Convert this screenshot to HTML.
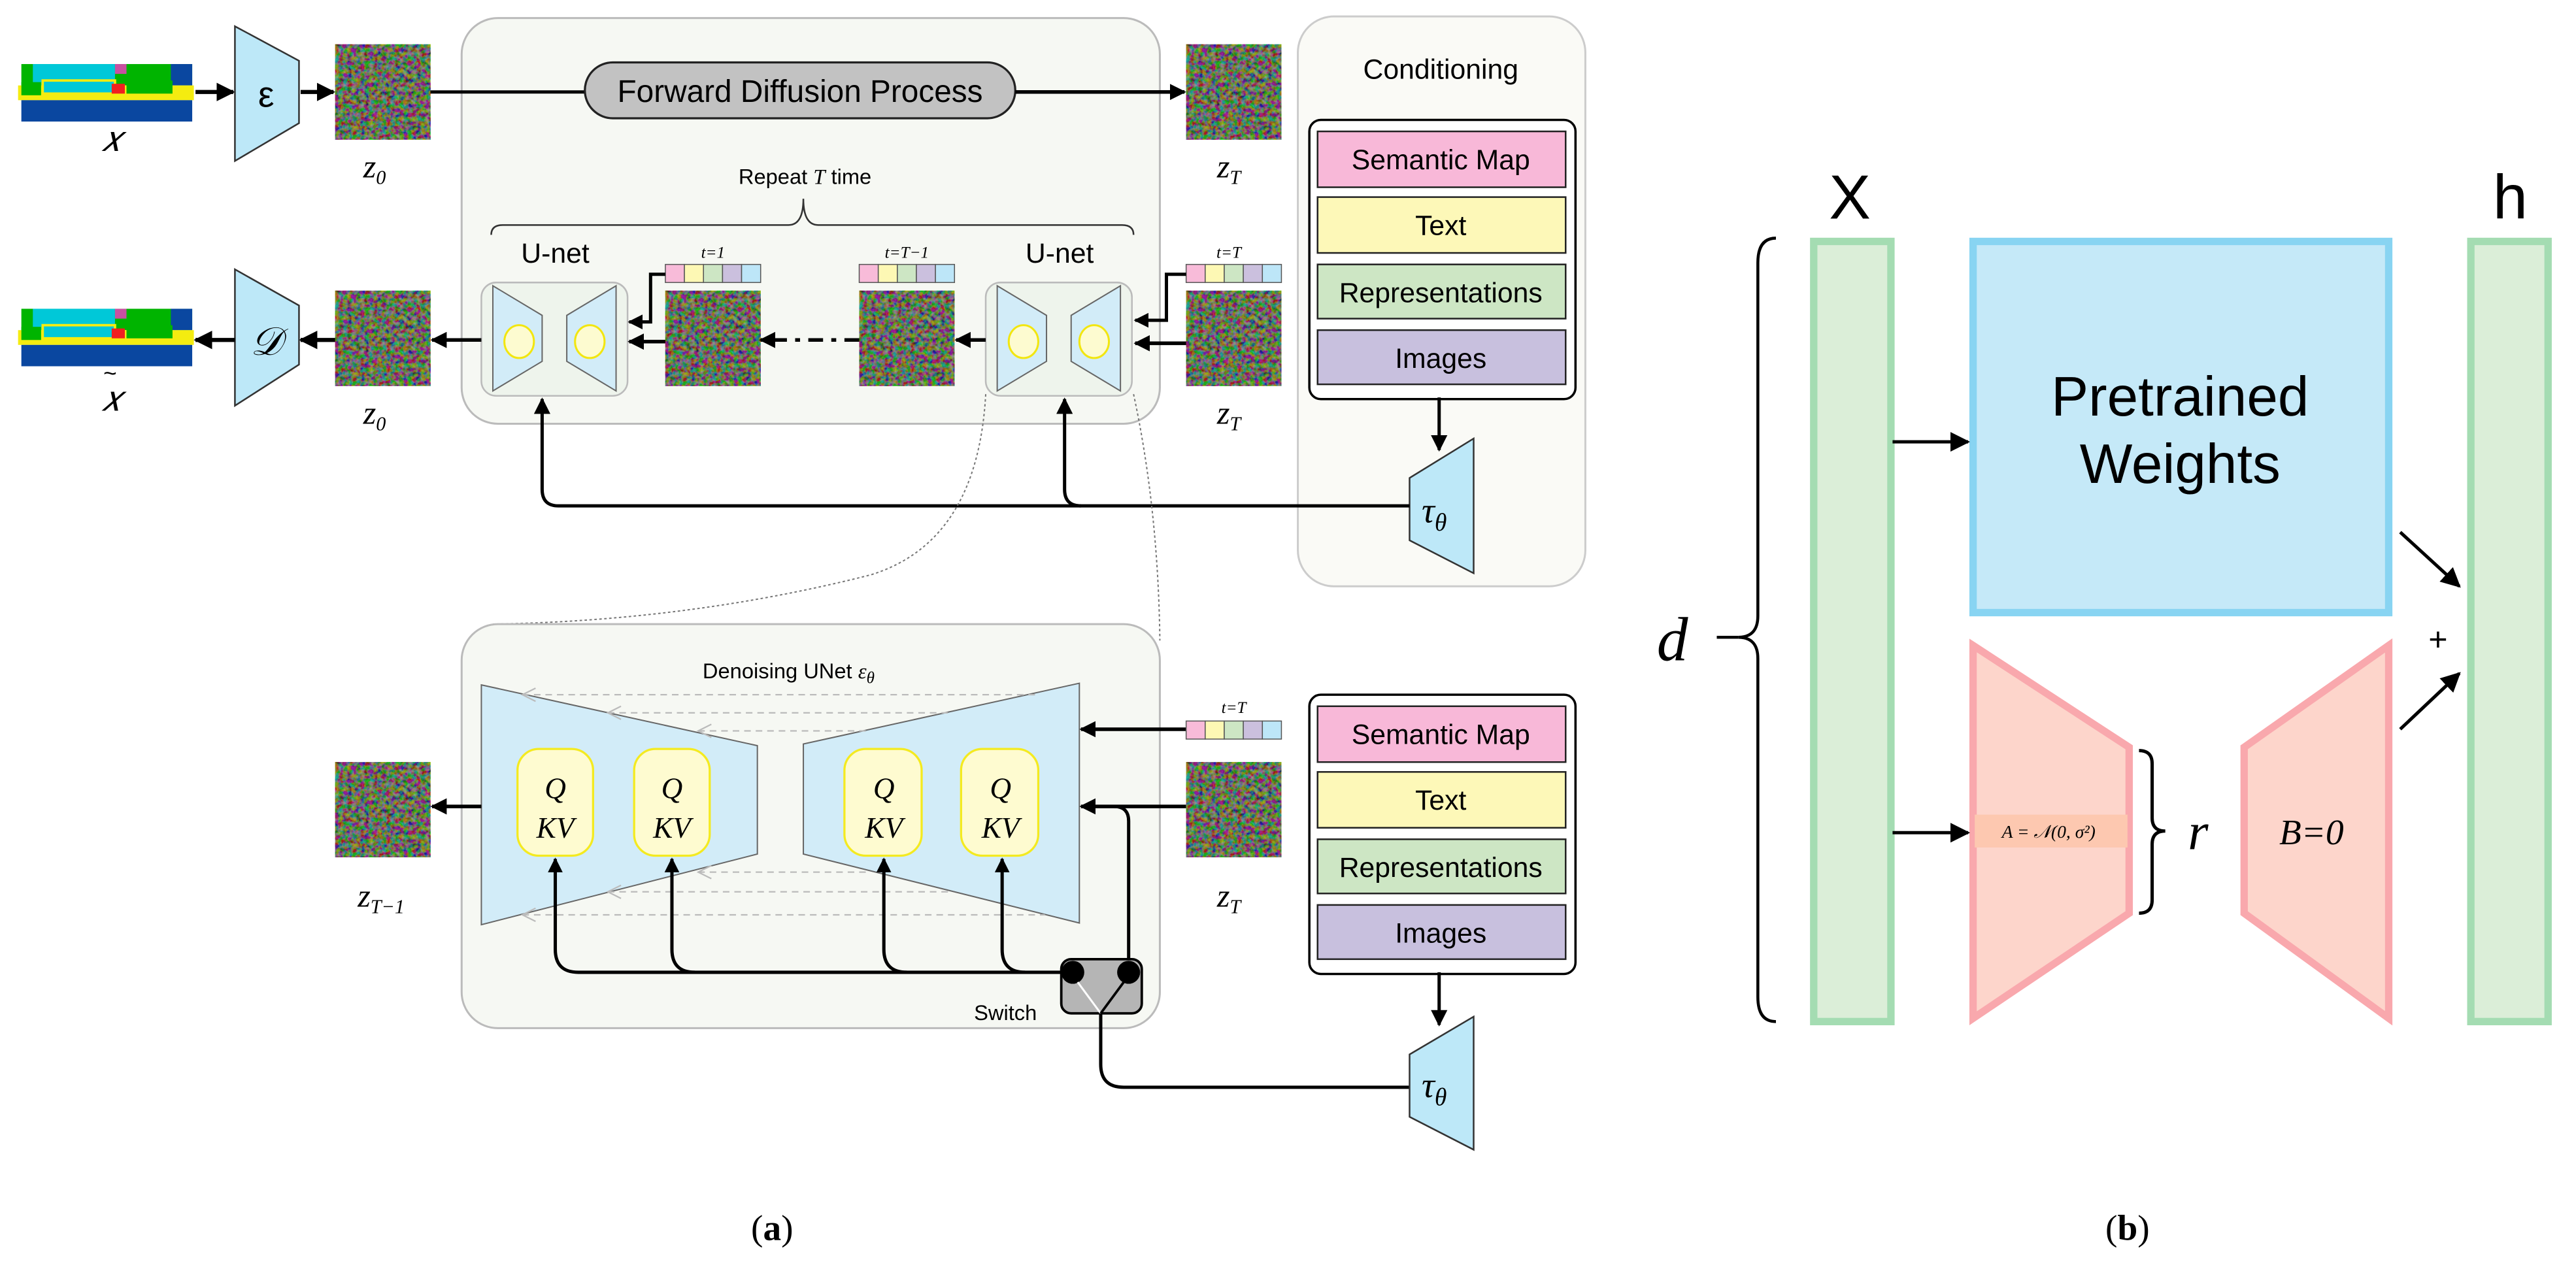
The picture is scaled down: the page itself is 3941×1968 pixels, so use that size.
<!DOCTYPE html>
<html><head><meta charset="utf-8"><style>html,body{margin:0;padding:0;background:#fff}svg{display:block}</style></head><body>
<svg width="3941" height="1968" viewBox="0 0 1568 783" xmlns="http://www.w3.org/2000/svg" font-family="'Liberation Sans', sans-serif">
<defs>
<filter id="nz" x="0" y="0" width="1" height="1">
<feTurbulence type="fractalNoise" baseFrequency="0.38" numOctaves="2" seed="3"/>
<feColorMatrix type="matrix" values="2.0 -0.5 -0.3 0 -0.35  -0.4 2.0 -0.4 0 -0.3  -0.3 -0.5 2.0 0 -0.42  0 0 0 0 1"/>
</filter>
<marker id="ah" viewBox="0 0 10 10" refX="9" refY="5" markerWidth="4.5" markerHeight="4.5" orient="auto"><path d="M0,0 L10,5 L0,10 z" fill="#000"/></marker>
<marker id="ah2" viewBox="0 0 10 10" refX="9" refY="5" markerWidth="5" markerHeight="5" orient="auto"><path d="M0,0 L10,5 L0,10 z" fill="#000"/></marker>
<marker id="ah3" viewBox="0 0 10 10" refX="9" refY="5" markerWidth="6" markerHeight="6" orient="auto"><path d="M0,0 L10,5 L0,10 z" fill="#000"/></marker>
<g id="noise"><rect width="58" height="58" fill="#4e4a46"/><rect width="58" height="58" filter="url(#nz)" opacity="0.6"/></g>
<g id="bar"><rect x="0" y="0" width="11.6" height="11" fill="#f8bbd9" stroke="#555" stroke-width="0.6"/><rect x="11.6" y="0" width="11.6" height="11" fill="#fdf8b4" stroke="#555" stroke-width="0.6"/><rect x="23.2" y="0" width="11.6" height="11" fill="#cde6c4" stroke="#555" stroke-width="0.6"/><rect x="34.8" y="0" width="11.6" height="11" fill="#cbc0de" stroke="#555" stroke-width="0.6"/><rect x="46.4" y="0" width="11.6" height="11" fill="#bde6f8" stroke="#555" stroke-width="0.6"/></g>
<g id="img">
<rect x="13" y="39" width="104" height="13" fill="#00b400"/>
<rect x="20" y="39" width="50" height="13" fill="#00c8d8"/>
<rect x="70" y="39" width="7" height="6" fill="#c850a0"/>
<rect x="104" y="39" width="13" height="13" fill="#0a47a0"/>
<rect x="11" y="52" width="107" height="9" fill="#f4ec10"/>
<rect x="13" y="50" width="12" height="8" fill="#00b400"/>
<rect x="26" y="49" width="44" height="8" fill="#00c8d8" stroke="#f4ec10" stroke-width="1.5"/>
<rect x="68" y="51" width="8" height="6" fill="#f02020"/>
<rect x="77" y="49" width="28" height="8" fill="#00b400"/>
<rect x="13" y="61" width="104" height="13" fill="#0a47a0"/>
</g>
<g id="cond">
<rect x="797" y="0" width="162" height="170" rx="7" fill="#fff" stroke="#000" stroke-width="1.4"/>
<rect x="802" y="7" width="151" height="34" fill="#f8b8d8" stroke="#222" stroke-width="1"/>
<rect x="802" y="47" width="151" height="34" fill="#fdf8b8" stroke="#222" stroke-width="1"/>
<rect x="802" y="88" width="151" height="33" fill="#cde6c4" stroke="#222" stroke-width="1"/>
<rect x="802" y="128" width="151" height="33" fill="#c8c0de" stroke="#222" stroke-width="1"/>
<text x="877" y="30" font-size="17" text-anchor="middle">Semantic Map</text>
<text x="877" y="70" font-size="17" text-anchor="middle">Text</text>
<text x="877" y="111" font-size="17" text-anchor="middle">Representations</text>
<text x="877" y="151" font-size="17" text-anchor="middle">Images</text>
</g>
</defs>

<rect x="281" y="11" width="425" height="247" rx="22" fill="#f6f8f3" stroke="#bbb" stroke-width="1.2"/>
<rect x="790" y="10" width="175" height="347" rx="22" fill="#fafaf6" stroke="#ccc" stroke-width="1.2"/>
<text x="877" y="48" font-size="17" text-anchor="middle">Conditioning</text>
<use href="#cond" y="73"/>
<line x1="876" y1="242" x2="876" y2="274" stroke="#000" stroke-width="2" marker-end="url(#ah2)"/>
<polygon points="858,291 897,267 897,349 858,329" fill="#bde8f8" stroke="#333" stroke-width="1"/>
<text x="873" y="318" font-size="22" font-family="'Liberation Serif',serif" font-style="italic" text-anchor="middle">τ<tspan font-size="15" dy="5">θ</tspan></text>
<path d="M858,308 H340 Q330,308 330,298 V243" fill="none" stroke="#000" stroke-width="2" marker-end="url(#ah2)"/>
<path d="M658,308 Q648,308 648,298 V243" fill="none" stroke="#000" stroke-width="2" marker-end="url(#ah2)"/>

<use href="#img"/>
<text x="68" y="92" font-size="22" font-family="'Liberation Serif',serif" font-style="italic" text-anchor="middle">𝑥</text>
<line x1="119" y1="56" x2="142" y2="56" stroke="#000" stroke-width="2.5" marker-end="url(#ah)"/>
<polygon points="143,16 182,37 182,75 143,98" fill="#bde8f8" stroke="#333" stroke-width="1"/>
<text x="162" y="65" font-size="22" text-anchor="middle">ε</text>
<line x1="183" y1="56" x2="203" y2="56" stroke="#000" stroke-width="2.5" marker-end="url(#ah)"/>
<use href="#noise" x="204" y="27"/>
<text x="228" y="108" font-size="20" font-family="'Liberation Serif',serif" font-style="italic" text-anchor="middle">z<tspan font-size="12" dy="4">0</tspan></text>
<line x1="262" y1="56" x2="356" y2="56" stroke="#000" stroke-width="2"/>
<rect x="356" y="38" width="262" height="34" rx="17" fill="#c2c2c2" stroke="#222" stroke-width="1.3"/>
<text x="487" y="62" font-size="19" text-anchor="middle">Forward Diffusion Process</text>
<line x1="618" y1="56" x2="721" y2="56" stroke="#000" stroke-width="2.2" marker-end="url(#ah)"/>
<use href="#noise" x="722" y="27"/>
<text x="748" y="108" font-size="20" font-family="'Liberation Serif',serif" font-style="italic" text-anchor="middle">z<tspan font-size="12" dy="4">T</tspan></text>

<text x="490" y="112" font-size="13" text-anchor="middle">Repeat <tspan font-family="'Liberation Serif',serif" font-style="italic">T</tspan> time</text>
<path d="M299,143 Q299,137 306,137 L480,137 Q489,137 489,121 Q489,137 498,137 L683,137 Q690,137 690,143" fill="none" stroke="#333" stroke-width="1"/>
<text x="338" y="160" font-size="17" text-anchor="middle">U-net</text>
<text x="645" y="160" font-size="17" text-anchor="middle">U-net</text>
<text x="434" y="157" font-size="10" font-family="'Liberation Serif',serif" font-style="italic" text-anchor="middle">t=1</text>
<text x="552" y="157" font-size="10" font-family="'Liberation Serif',serif" font-style="italic" text-anchor="middle">t=T−1</text>
<text x="748" y="157" font-size="10" font-family="'Liberation Serif',serif" font-style="italic" text-anchor="middle">t=T</text>
<use href="#bar" x="405" y="161"/>
<use href="#bar" x="523" y="161"/>
<use href="#bar" x="722" y="161"/>
<use href="#noise" x="405" y="177"/>
<use href="#noise" x="523" y="177"/>
<use href="#noise" x="722" y="177"/>

<g>
<rect x="293" y="172" width="89" height="69" rx="9" fill="#eef4ec" stroke="#bbb" stroke-width="1"/>
<polygon points="300,174 330,192 330,220 300,238" fill="#d2ecf8" stroke="#666" stroke-width="0.8"/>
<polygon points="375,174 345,192 345,220 375,238" fill="#d2ecf8" stroke="#666" stroke-width="0.8"/>
<ellipse cx="316" cy="208" rx="9" ry="10" fill="#fdfbd0" stroke="#f2e610" stroke-width="1.2"/>
<ellipse cx="359" cy="208" rx="9" ry="10" fill="#fdfbd0" stroke="#f2e610" stroke-width="1.2"/>
</g>
<g transform="translate(307,0)">
<rect x="293" y="172" width="89" height="69" rx="9" fill="#eef4ec" stroke="#bbb" stroke-width="1"/>
<polygon points="300,174 330,192 330,220 300,238" fill="#d2ecf8" stroke="#666" stroke-width="0.8"/>
<polygon points="375,174 345,192 345,220 375,238" fill="#d2ecf8" stroke="#666" stroke-width="0.8"/>
<ellipse cx="316" cy="208" rx="9" ry="10" fill="#fdfbd0" stroke="#f2e610" stroke-width="1.2"/>
<ellipse cx="359" cy="208" rx="9" ry="10" fill="#fdfbd0" stroke="#f2e610" stroke-width="1.2"/>
</g>
<line x1="405" y1="208" x2="383" y2="208" stroke="#000" stroke-width="2.2" marker-end="url(#ah)"/>
<path d="M405,167 H396 V196 H383" fill="none" stroke="#000" stroke-width="2" marker-end="url(#ah)"/>
<line x1="523" y1="207" x2="463" y2="207" stroke="#000" stroke-width="2.2" stroke-dasharray="9,5,3,5" marker-end="url(#ah)"/>
<line x1="600" y1="207" x2="582" y2="207" stroke="#000" stroke-width="2.2" marker-end="url(#ah)"/>
<line x1="722" y1="209" x2="691" y2="209" stroke="#000" stroke-width="2.2" marker-end="url(#ah)"/>
<path d="M722,167 H710 V195 H691" fill="none" stroke="#000" stroke-width="2" marker-end="url(#ah)"/>
<line x1="293" y1="207" x2="263" y2="207" stroke="#000" stroke-width="2.2" marker-end="url(#ah)"/>
<use href="#noise" x="204" y="177"/>
<text x="228" y="258" font-size="20" font-family="'Liberation Serif',serif" font-style="italic" text-anchor="middle">z<tspan font-size="12" dy="4">0</tspan></text>
<text x="748" y="258" font-size="20" font-family="'Liberation Serif',serif" font-style="italic" text-anchor="middle">z<tspan font-size="12" dy="4">T</tspan></text>
<line x1="204" y1="207" x2="183" y2="207" stroke="#000" stroke-width="2.5" marker-end="url(#ah)"/>
<polygon points="143,164 182,186 182,222 143,247" fill="#bde8f8" stroke="#333" stroke-width="1"/>
<text x="162" y="216" font-size="24" font-family="'Liberation Serif',serif" font-style="italic" text-anchor="middle">𝒟</text>
<line x1="143" y1="207" x2="119" y2="207" stroke="#000" stroke-width="2.5" marker-end="url(#ah)"/>
<use href="#img" y="149"/>
<text x="67" y="232" font-size="14" text-anchor="middle">~</text>
<text x="68" y="250" font-size="22" font-family="'Liberation Serif',serif" font-style="italic" text-anchor="middle">𝑥</text>

<path d="M600,240 Q595,330 530,350 Q420,378 300,380" fill="none" stroke="#777" stroke-width="0.8" stroke-dasharray="1.5,1.5"/>
<path d="M690,240 Q705,310 706,390" fill="none" stroke="#777" stroke-width="0.8" stroke-dasharray="1.5,1.5"/>

<rect x="281" y="380" width="425" height="246" rx="22" fill="#f6f8f3" stroke="#bbb" stroke-width="1.2"/>
<text x="480" y="413" font-size="13" text-anchor="middle">Denoising UNet <tspan font-family="'Liberation Serif',serif" font-style="italic">ε<tspan font-size="10" dy="3">θ</tspan></tspan></text>
<polygon points="293,417 461,454 461,520 293,563" fill="#d2ecf8" stroke="#666" stroke-width="0.8"/>
<polygon points="657,416 489,453 489,520 657,562" fill="#d2ecf8" stroke="#666" stroke-width="0.8"/>
<g stroke="#bbb" stroke-width="0.9" stroke-dasharray="4,3" fill="none">
<line x1="318" y1="423" x2="630" y2="423"/><line x1="370" y1="434" x2="580" y2="434"/><line x1="425" y1="445" x2="530" y2="445"/>
<line x1="425" y1="531" x2="530" y2="531"/><line x1="370" y1="543" x2="580" y2="543"/><line x1="318" y1="557" x2="636" y2="557"/>
</g>
<g stroke="#bbb" stroke-width="0.9" fill="none">
<path d="M326,419 L318,423 L326,427"/><path d="M378,430 L370,434 L378,438"/><path d="M433,441 L425,445 L433,449"/>
<path d="M433,527 L425,531 L433,535"/><path d="M378,539 L370,543 L378,547"/><path d="M326,553 L318,557 L326,561"/>
</g>
<g font-family="'Liberation Serif',serif" font-style="italic" font-size="18" text-anchor="middle">
<rect x="315" y="456" width="46" height="65" rx="13" fill="#fefbd0" stroke="#f4ea20" stroke-width="1.3"/>
<rect x="386" y="456" width="46" height="65" rx="13" fill="#fefbd0" stroke="#f4ea20" stroke-width="1.3"/>
<rect x="514" y="456" width="47" height="65" rx="13" fill="#fefbd0" stroke="#f4ea20" stroke-width="1.3"/>
<rect x="585" y="456" width="47" height="65" rx="13" fill="#fefbd0" stroke="#f4ea20" stroke-width="1.3"/>
<text x="338" y="486">Q</text><text x="338" y="510">KV</text>
<text x="409" y="486">Q</text><text x="409" y="510">KV</text>
<text x="538" y="486">Q</text><text x="538" y="510">KV</text>
<text x="609" y="486">Q</text><text x="609" y="510">KV</text>
</g>
<g fill="none" stroke="#000" stroke-width="2">
<path d="M650,592 H352 Q338,592 338,578 V523" marker-end="url(#ah)"/>
<path d="M423,592 Q409,592 409,578 V523" marker-end="url(#ah)"/>
<path d="M552,592 Q538,592 538,578 V523" marker-end="url(#ah)"/>
<path d="M624,592 Q610,592 610,578 V523" marker-end="url(#ah)"/>
<path d="M687,590 V500 Q687,491 678,491"/>
</g>
<line x1="722" y1="491" x2="658" y2="491" stroke="#000" stroke-width="2.2" marker-end="url(#ah)"/>
<line x1="722" y1="444" x2="658" y2="444" stroke="#000" stroke-width="2.2" marker-end="url(#ah)"/>
<rect x="646" y="584" width="49" height="33" rx="6" fill="#b5b5b5" stroke="#000" stroke-width="1.5"/>
<circle cx="653" cy="592" r="7" fill="#000"/><circle cx="687" cy="592" r="7" fill="#000"/>
<line x1="656" y1="598" x2="670" y2="617" stroke="#fff" stroke-width="1.2"/>
<line x1="684" y1="598" x2="670" y2="617" stroke="#000" stroke-width="1.5"/>
<text x="612" y="621" font-size="13" text-anchor="middle">Switch</text>
<path d="M670,617 V648 Q670,662 684,662 H858" fill="none" stroke="#000" stroke-width="2"/>
<text x="751" y="434" font-size="10" font-family="'Liberation Serif',serif" font-style="italic" text-anchor="middle">t=T</text>
<use href="#bar" x="722" y="439"/>
<use href="#noise" x="722" y="464"/>
<text x="748" y="552" font-size="20" font-family="'Liberation Serif',serif" font-style="italic" text-anchor="middle">z<tspan font-size="12" dy="4">T</tspan></text>
<line x1="293" y1="491" x2="263" y2="491" stroke="#000" stroke-width="2.2" marker-end="url(#ah)"/>
<use href="#noise" x="204" y="464"/>
<text x="232" y="552" font-size="20" font-family="'Liberation Serif',serif" font-style="italic" text-anchor="middle">z<tspan font-size="12" dy="4">T−1</tspan></text>

<use href="#cond" y="423"/>
<line x1="876" y1="592" x2="876" y2="624" stroke="#000" stroke-width="2" marker-end="url(#ah2)"/>
<polygon points="858,642 897,619 897,700 858,680" fill="#bde8f8" stroke="#333" stroke-width="1"/>
<text x="873" y="668" font-size="22" font-family="'Liberation Serif',serif" font-style="italic" text-anchor="middle">τ<tspan font-size="15" dy="5">θ</tspan></text>

<text x="470" y="755" font-size="22" font-family="'Liberation Serif',serif" text-anchor="middle">(<tspan font-weight="bold">a</tspan>)</text>
<text x="1295" y="755" font-size="22" font-family="'Liberation Serif',serif" text-anchor="middle">(<tspan font-weight="bold">b</tspan>)</text>

<text x="1126" y="133" font-size="38" text-anchor="middle">X</text>
<text x="1528" y="133" font-size="38" text-anchor="middle">h</text>
<rect x="1104" y="147" width="47" height="475" fill="#dbeed8" stroke="#a4dcb2" stroke-width="4.5"/>
<rect x="1504" y="147" width="47" height="475" fill="#dbeed8" stroke="#a4dcb2" stroke-width="4.5"/>
<rect x="1201" y="147" width="253" height="226" fill="#c5e9f8" stroke="#88d4f2" stroke-width="4.5"/>
<text x="1327" y="253" font-size="34" text-anchor="middle">Pretrained</text>
<text x="1327" y="294" font-size="34" text-anchor="middle">Weights</text>
<polygon points="1201,393 1296,455 1296,556 1201,620" fill="#fdd5cb" stroke="#f9a8ad" stroke-width="4.5"/>
<polygon points="1454,393 1366,455 1366,556 1454,620" fill="#fdd5cb" stroke="#f9a8ad" stroke-width="4.5"/>
<rect x="1202" y="496" width="93" height="20" fill="#fdc8b0"/>
<text x="1247" y="510" font-size="11" font-family="'Liberation Serif',serif" font-style="italic" text-anchor="middle">A = 𝒩(0, σ²)</text>
<text x="1407" y="514" font-size="22" font-family="'Liberation Serif',serif" font-style="italic" text-anchor="middle">B=0</text>
<line x1="1152" y1="269" x2="1198" y2="269" stroke="#000" stroke-width="2" marker-end="url(#ah3)"/>
<line x1="1152" y1="507" x2="1198" y2="507" stroke="#000" stroke-width="2" marker-end="url(#ah3)"/>
<line x1="1461" y1="324" x2="1497" y2="357" stroke="#000" stroke-width="2" marker-end="url(#ah3)"/>
<line x1="1461" y1="444" x2="1497" y2="410" stroke="#000" stroke-width="2" marker-end="url(#ah3)"/>
<text x="1484" y="396" font-size="20" text-anchor="middle">+</text>
<path d="M1302,457 Q1310,457 1310,465 V498 Q1310,506 1318,506 Q1310,506 1310,514 V548 Q1310,556 1302,556" fill="none" stroke="#000" stroke-width="2"/>
<text x="1338" y="517" font-size="32" font-family="'Liberation Serif',serif" font-style="italic" text-anchor="middle">r</text>
<path d="M1081,145 Q1070,145 1070,160 V375 Q1070,388 1058,388 Q1070,388 1070,401 V607 Q1070,622 1081,622" fill="none" stroke="#000" stroke-width="1.8"/>
<line x1="1045" y1="388" x2="1058" y2="388" stroke="#000" stroke-width="1.8"/>
<text x="1018" y="402" font-size="38" font-family="'Liberation Serif',serif" font-style="italic" text-anchor="middle">d</text>
</svg>
</body></html>
